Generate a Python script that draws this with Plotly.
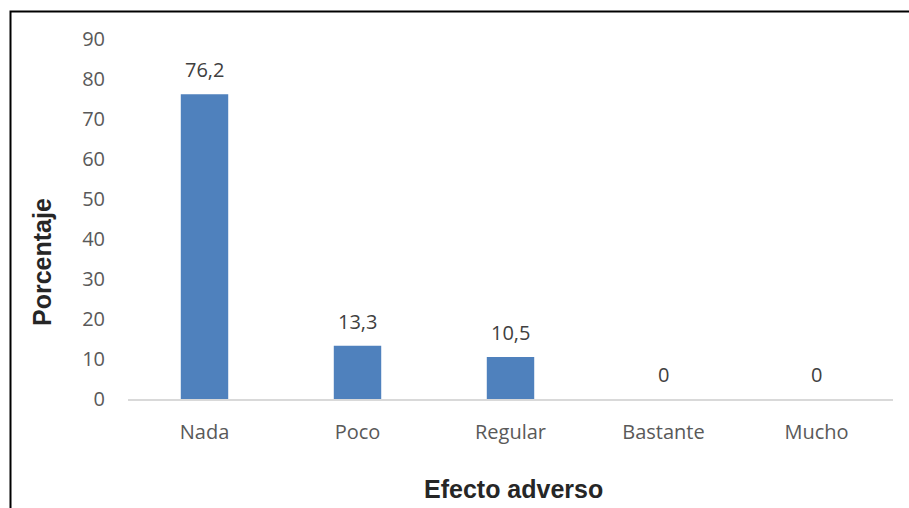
import plotly.graph_objects as go

categories = ["Nada", "Poco", "Regular", "Bastante", "Mucho"]
values = [76.2, 13.3, 10.5, 0, 0]
labels = ["76,2", "13,3", "10,5", "0", "0"]
y_ticks = [0, 10, 20, 30, 40, 50, 60, 70, 80, 90]

W, H = 909, 508
L, R, T, B = 128, 16, 39, 109
pw, ph = W - L - R, H - T - B

def px(x):
    return (x - L) / pw

def py(y):
    return (H - B - y) / ph

FONT = "Open Sans"
fig = go.Figure(go.Bar(
    x=categories, y=values,
    marker=dict(color="#4f81bd", line=dict(width=0)),
))

annotations = [
    dict(x=c, y=v, text=t, xref="x", yref="y", showarrow=False,
         yanchor="bottom", yshift=9,
         font=dict(family=FONT, size=20, color="#404040"))
    for c, v, t in zip(categories, values, labels)
]
annotations += [
    dict(text="<b>Efecto adverso</b>", xref="paper", yref="paper",
         x=px(513), y=py(489), showarrow=False,
         font=dict(family="Liberation Sans", size=25, color="#262626"),
         xanchor="center", yanchor="middle"),
    dict(text="<b>Porcentaje</b>", xref="paper", yref="paper",
         x=px(42), y=py(262), showarrow=False, textangle=-90,
         font=dict(family="Liberation Sans", size=25, color="#262626"),
         xanchor="center", yanchor="middle"),
]

fig.update_layout(
    width=W, height=H,
    margin=dict(l=L, r=R, t=T, b=B),
    paper_bgcolor="white", plot_bgcolor="white",
    bargap=0.69, showlegend=False,
    xaxis=dict(showgrid=False, showline=True, linecolor="#d9d9d9", linewidth=2,
               ticks="", tickfont=dict(family=FONT, size=20, color="#595959"),
               ticklabelstandoff=14),
    yaxis=dict(range=[0, 90], tickvals=y_ticks, showgrid=False, zeroline=False,
               showline=False, ticks="",
               tickfont=dict(family=FONT, size=20, color="#595959"),
               ticklabelstandoff=22),
    shapes=[dict(type="rect", xref="paper", yref="paper",
                 x0=px(10.5), x1=px(930), y0=py(530), y1=py(11.5),
                 line=dict(color="black", width=2), fillcolor="rgba(0,0,0,0)",
                 layer="above")],
    annotations=annotations,
)

fig.write_html("out.html")
